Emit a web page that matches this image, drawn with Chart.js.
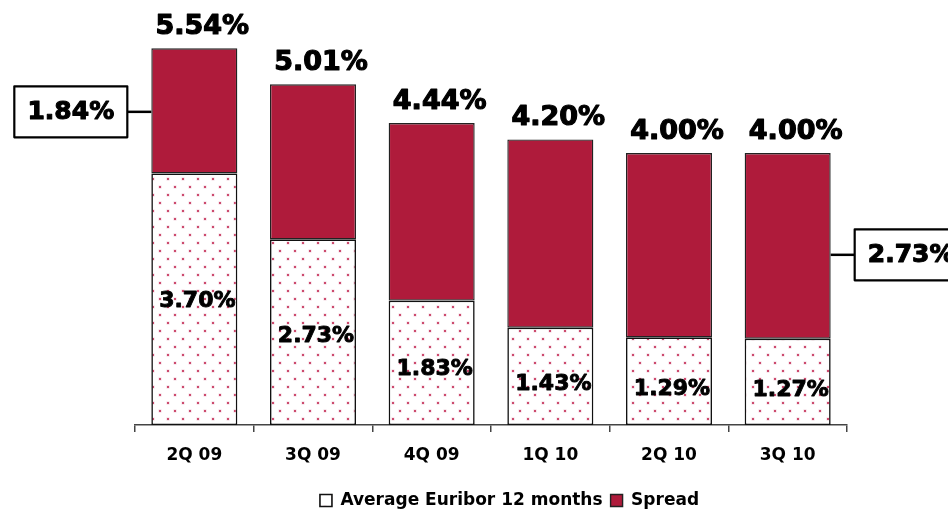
<!DOCTYPE html>
<html>
<head>
<meta charset="utf-8">
<script src="https://cdn.jsdelivr.net/npm/chart.js@4/dist/chart.umd.min.js"></script>
<style>
  html, body { margin: 0; padding: 0; background: #fff; }
  #wrap { width: 948px; height: 512px; }
</style>
</head>
<body>
<div id="wrap"><canvas id="c" width="948" height="512"></canvas></div>
<script>
const categories = ['2Q 09', '3Q 09', '4Q 09', '1Q 10', '2Q 10', '3Q 10'];
const euribor = [3.70, 2.73, 1.83, 1.43, 1.29, 1.27];
const spread = [1.84, 2.28, 2.61, 2.77, 2.71, 2.73];
const seriesNames = ['Average Euribor 12 months', 'Spread'];
const calloutBars = [0, 5];

const FONT = '"DejaVu Sans", Verdana, sans-serif';
const CRIMSON = '#AF1B3B';

function makePattern() {
  const p = document.createElement('canvas');
  p.width = 15; p.height = 16;
  const g = p.getContext('2d');
  g.fillStyle = '#ffffff';
  g.fillRect(0, 0, 15, 16);
  g.fillStyle = 'rgba(225,150,175,0.45)';
  g.fillRect(1.5, 1.5, 3, 3);
  g.fillRect(8.5, 9.5, 3, 3);
  g.fillStyle = '#CC4A6E';
  g.fillRect(2, 2, 2, 2);
  g.fillRect(9, 10, 2, 2);
  return g.createPattern(p, 'repeat');
}
const dots = makePattern();

const fmt = v => v.toFixed(2) + '%';

function boldText(ctx, text, x, y, sw) {
  ctx.lineWidth = sw;
  ctx.strokeText(text, x, y);
  ctx.fillText(text, x, y);
}

const labelPlugin = {
  id: 'labels',
  afterDatasetsDraw(chart) {
    const ctx = chart.ctx;
    const m0 = chart.getDatasetMeta(0);
    const m1 = chart.getDatasetMeta(1);
    ctx.save();
    ctx.fillStyle = '#000';
    ctx.strokeStyle = '#000';
    ctx.lineJoin = 'round';
    ctx.textAlign = 'center';
    // totals
    ctx.font = 'bold 27px ' + FONT;
    ctx.textBaseline = 'alphabetic';
    m1.data.forEach((bar, i) => {
      boldText(ctx, fmt(euribor[i] + spread[i]), bar.x + 8, bar.y - 14, 1.2);
    });
    // inner euribor labels
    ctx.font = 'bold 22px ' + FONT;
    ctx.textBaseline = 'middle';
    m0.data.forEach((bar, i) => {
      const h = bar.base - bar.y;
      boldText(ctx, fmt(euribor[i]), bar.x + 3, (bar.y + bar.base) / 2 + Math.max(0, 11 - h * 0.035), 0.9);
    });
    // callouts for spread
    ctx.font = 'bold 25px ' + FONT;
    calloutBars.forEach((i, k) => {
      const bar = m1.data[i];
      const cy = (bar.y + bar.base) / 2 + (k === 0 ? 1 : 9);
      const bw = 113, bh = 51, gap = 24;
      const left = k === 0;
      const edge = left ? bar.x - bar.width / 2 : bar.x + bar.width / 2;
      const bx = left ? edge - gap - bw : edge + gap;
      ctx.strokeStyle = '#000';
      ctx.lineWidth = 2.5;
      ctx.beginPath();
      ctx.moveTo(edge, cy);
      ctx.lineTo(left ? edge - gap : edge + gap, cy);
      ctx.stroke();
      ctx.fillStyle = '#fff';
      ctx.fillRect(bx, cy - bh / 2, bw, bh);
      ctx.lineWidth = 2.2;
      ctx.strokeRect(bx, cy - bh / 2, bw, bh);
      ctx.fillStyle = '#000';
      boldText(ctx, fmt(spread[i]), bx + bw / 2, cy + 1, 1.1);
    });
    ctx.restore();
  }
};

new Chart(document.getElementById('c'), {
  type: 'bar',
  data: {
    labels: categories,
    datasets: [
      {
        label: seriesNames[0],
        data: euribor,
        backgroundColor: dots,
        borderColor: '#111',
        borderWidth: 1.6,
        borderSkipped: false
      },
      {
        label: seriesNames[1],
        data: spread,
        backgroundColor: CRIMSON,
        borderColor: '#222',
        borderWidth: 1.4,
        borderSkipped: false
      }
    ]
  },
  options: {
    responsive: false,
    animation: false,
    devicePixelRatio: 1,
    layout: { padding: { left: 135, right: 64, top: 17, bottom: 0 } },
    datasets: { bar: { categoryPercentage: 1, barPercentage: 0.725 } },
    scales: {
      x: {
        stacked: true,
        grid: { display: true, drawOnChartArea: false, drawTicks: true, tickLength: 7, color: '#444', lineWidth: 1.5, offset: true },
        border: { display: true, color: '#444', width: 1.5 },
        ticks: { color: '#000', font: { family: FONT, size: 17, weight: 'bold' }, padding: 13, maxRotation: 0 },
        afterFit(scale) { scale.height = 59; }
      },
      y: {
        stacked: true,
        position: 'right',
        min: 0,
        max: 6,
        grid: { display: false },
        border: { display: false },
        ticks: { display: false },
        afterFit(scale) { scale.width = 37; }
      }
    },
    plugins: {
      tooltip: { enabled: false },
      legend: {
        position: 'bottom',
        maxHeight: 28,
        labels: {
          color: '#000',
          boxWidth: 12,
          boxHeight: 12,
          padding: 8,
          font: { family: FONT, size: 17, weight: 'bold' }
        }
      }
    }
  },
  plugins: [labelPlugin]
});
</script>
</body>
</html>
